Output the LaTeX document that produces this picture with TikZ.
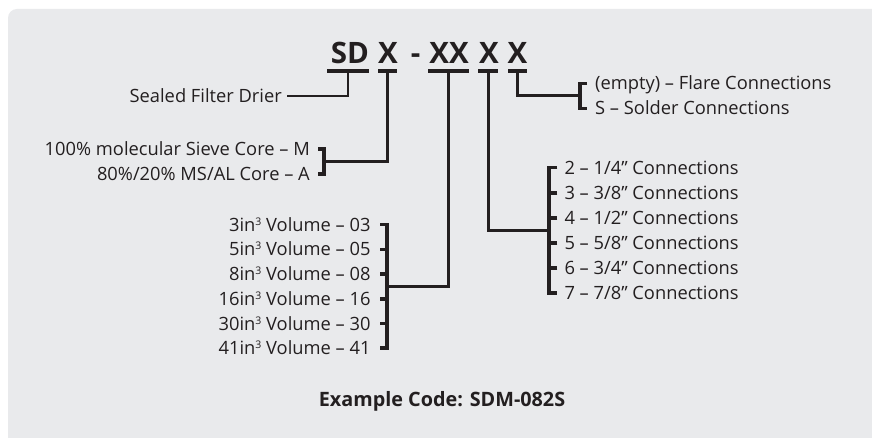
\documentclass[tikz,border=0pt]{standalone}
\usepackage{fontspec}
\setmainfont{Open Sans}
\usepackage{xcolor}
\usepackage{tikz}
\usetikzlibrary{calc, positioning}
\definecolor{ink}{HTML}{231F20}
\definecolor{panel}{HTML}{E9EAEC}

\newcommand{\cubed}{\raisebox{6pt}{\fontsize{10.5}{10.5}\selectfont 3}}

\tikzset{
  lbl/.style={font=\fontsize{18.3}{21}\selectfont, text=ink, inner sep=0pt, text height=13pt, text depth=0pt},
  code/.style={font=\fontsize{29.5}{32}\selectfont\bfseries, text=ink, inner sep=0pt, anchor=base},
  codebar/.style={fill=ink, inner sep=0pt, minimum height=3.3pt},
  link/.style={draw=ink, line width=2.8pt},
  brk/.style={draw=ink, line width=3.5pt, line join=miter},
}

\begin{document}
\begin{tikzpicture}[x=1pt, y=-1pt]
  \useasboundingbox (0,0) rectangle (872,438);
  % Panel
  \fill[white] (0,0) rectangle (872,438);
  \fill[panel, rounded corners=9pt] (8,9) rectangle (890,460);
  % Code letters
  \node[code] (sd) at (350,64) {SD};
  \node[code] (mx) at (388,64) {X};
  \node[code] (dash) at (415.5,64) {-};
  \node[code] (vx) at (449,64) {XX};
  \node[code] (cx) at (489,64) {X};
  \node[code] (fx) at (517.5,64) {X};
  % Bars under the letters
  \node[codebar, minimum width=42.6pt] (sdbar) at (348,71) {};
  \node[codebar, minimum width=19.6pt] (mxbar) at (387.5,71) {};
  \node[codebar, minimum width=41.6pt] (vxbar) at (448.5,71) {};
  \node[codebar, minimum width=20pt] (cxbar) at (488.3,71) {};
  \node[codebar, minimum width=19.6pt] (fxbar) at (517.5,71) {};

  % Sealed filter drier
  \node[lbl, anchor=east] (drier) at (282,96) {Sealed Filter Drier};
  \draw[link] (sdbar.center) |- ([xshift=5pt]drier.east);

  % Core options
  \node[lbl, anchor=east] (coreM) at (310,149) {100\% molecular Sieve Core – M};
  \node[lbl, anchor=east] (coreA) at (310,174) {80\%/20\% MS/AL Core – A};
  \draw[brk] ([xshift=8pt]coreM.east) -- ([xshift=14pt]coreM.east) -- ([xshift=14pt]coreA.east) -- ([xshift=8pt]coreA.east);
  \coordinate (corejoin) at ($(coreM.east)!0.5!(coreA.east)+(14,0)$);
  \draw[link] (mxbar.center) |- (corejoin);

  % Volume options
  \foreach \vol/\cd [count=\i] in {3/03, 5/05, 8/08, 16/16, 30/30, 41/41}
    \node[lbl, anchor=east] (v\i) at (370.7,{224.7+24.7*(\i-1)}) {\vol in\cubed{} Volume – \cd};
  \draw[brk] ([xshift=9.3pt]v1.east) -- ([xshift=16.3pt]v1.east) -- ([xshift=16.3pt]v6.east) -- ([xshift=9.3pt]v6.east);
  \foreach \i in {2,...,5}
    \draw[brk] ([xshift=9.3pt]v\i.east) -- ([xshift=16.3pt]v\i.east);
  \coordinate (voljoin) at ($(v1.east)!0.5!(v6.east)+(16.3,0)$);
  \draw[link] (vxbar.center) |- (voljoin);

  % Connection sizes
  \foreach \txt [count=\i] in {{2 – 1/4” Connections}, {3 – 3/8” Connections}, {4 – 1/2” Connections},
                               {5 – 5/8” Connections}, {6 – 3/4” Connections}, {7 – 7/8” Connections}}
    \node[lbl, anchor=west] (c\i) at (564.3,{167.7+25.1*(\i-1)}) {\txt};
  \draw[brk] ([xshift=-7pt]c1.west) -- ([xshift=-15.3pt]c1.west) -- ([xshift=-15.3pt]c6.west) -- ([xshift=-7pt]c6.west);
  \foreach \i in {2,...,5}
    \draw[brk] ([xshift=-7pt]c\i.west) -- ([xshift=-15.3pt]c\i.west);
  \coordinate (conjoin) at ($(c1.west)!0.5!(c6.west)+(-15.3,0)$);
  \draw[link] (cxbar.center) |- (conjoin);

  % Flare or solder
  \node[lbl, anchor=west] (flare) at (595,83.3) {(empty) – Flare Connections};
  \node[lbl, anchor=west] (solder) at (595,108.3) {S – Solder Connections};
  \draw[brk] ([xshift=-8pt]flare.west) -- ([xshift=-15pt]flare.west) -- ([xshift=-15pt]solder.west) -- ([xshift=-8pt]solder.west);
  \coordinate (flarejoin) at ($(flare.west)!0.5!(solder.west)+(-15,0)$);
  \draw[link] (fxbar.center) |- (flarejoin);

  % Example
  \node[lbl, font=\fontsize{19.8}{23}\selectfont\bfseries, text height=14pt] (example) at (442,399.5) {Example Code: SDM-082S};
\end{tikzpicture}
\end{document}
